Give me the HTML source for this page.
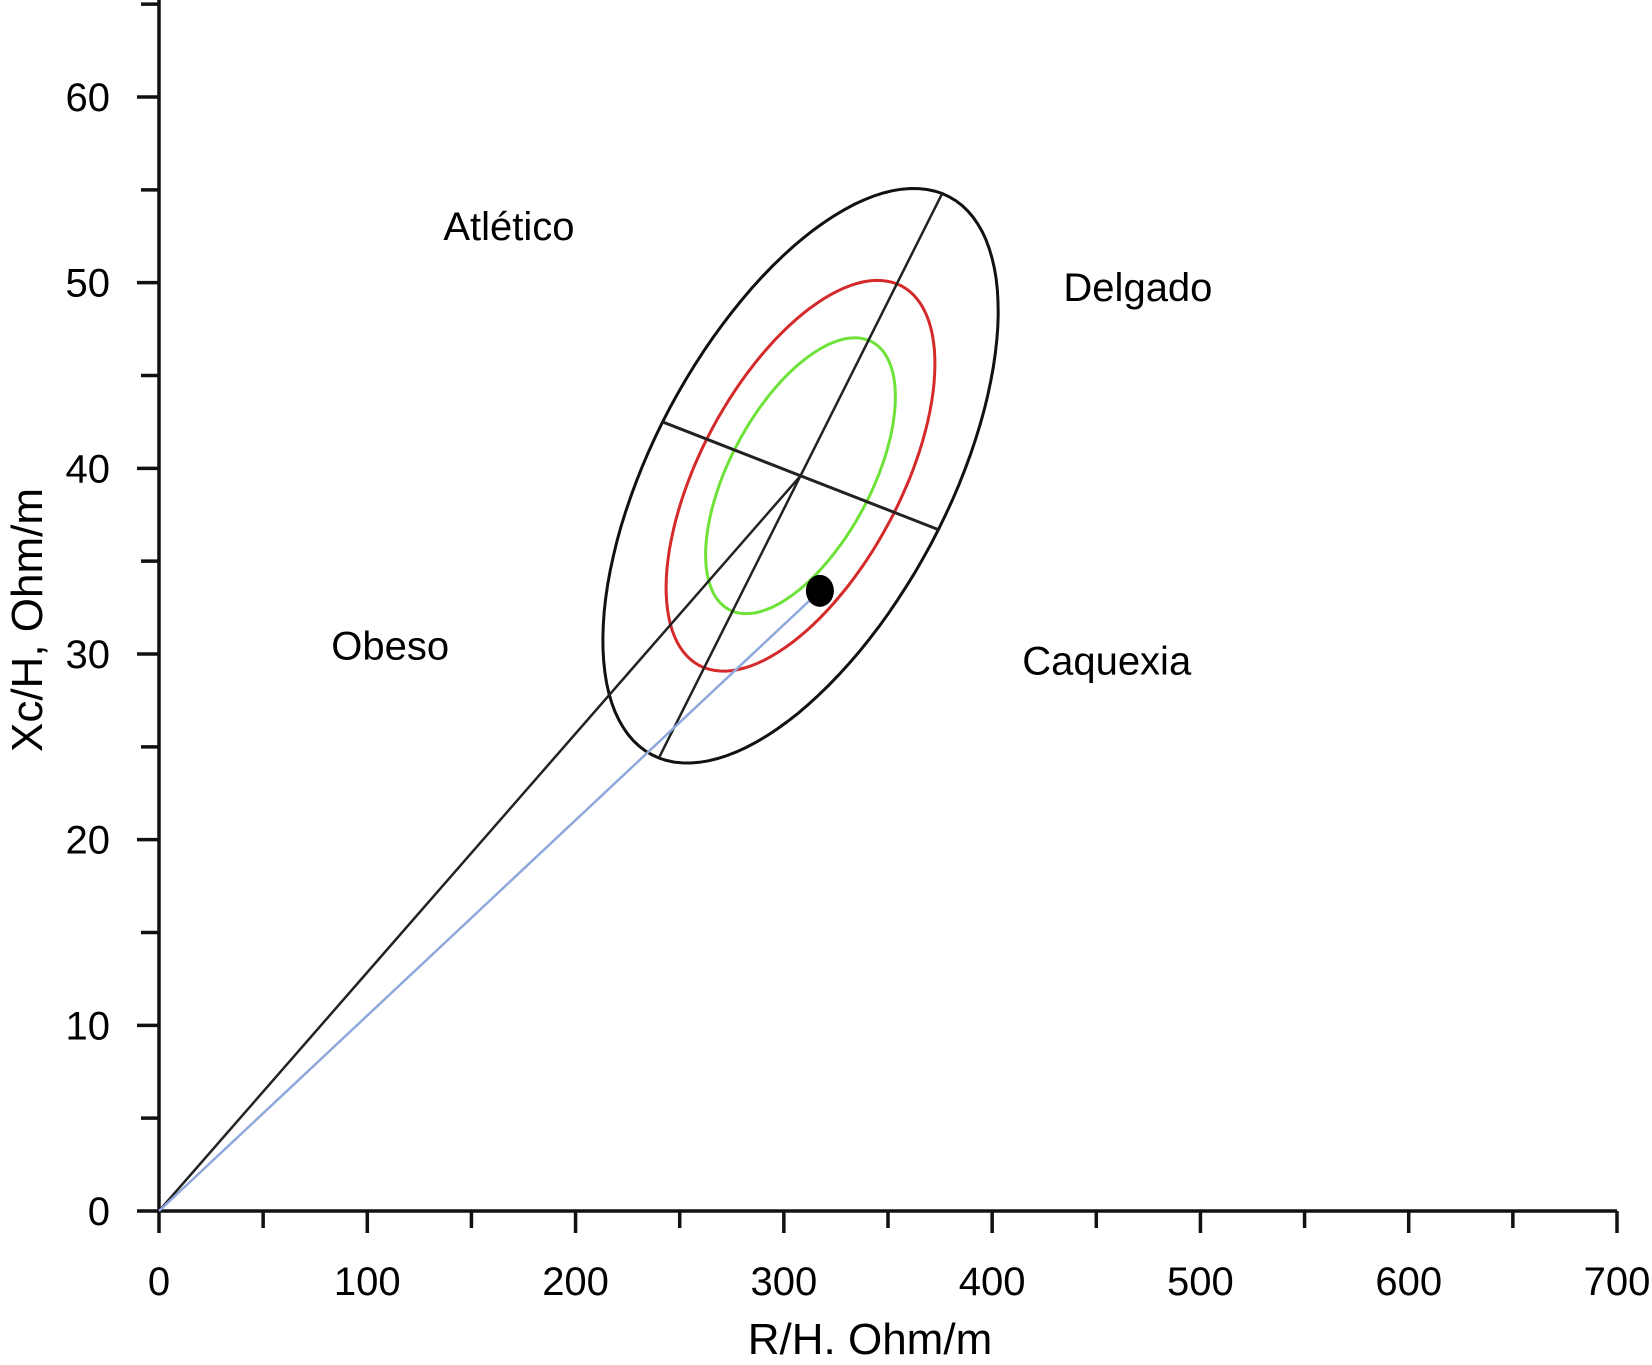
<!DOCTYPE html>
<html><head><meta charset="utf-8"><style>
html,body{margin:0;padding:0;background:#fff}
svg{display:block}
text{font-family:"Liberation Sans",Arial,sans-serif;fill:#000}
</style></head><body>
<svg id="chart" width="1652" height="1365" viewBox="0 0 1652 1365" xmlns="http://www.w3.org/2000/svg"></svg>
<script>
const xTicks=[0,100,200,300,400,500,600,700];
const yTicks=[0,10,20,30,40,50,60];
const ellipseCenter=[308,39.6];
const majorHalf=[68,15.2];
const minorHalf=[66.2,-2.9];
const ellipseScales=[1,0.68,0.48];
const ellipseColors=["#111","#d42a2a","#6fe23a"];
const ellipseNames=["ellipse-95","ellipse-75","ellipse-50"];
const subjectPoint=[317.3,33.4];
const regionLabels=["Atlético","Delgado","Obeso","Caquexia"];
const regionPos=[[168,52.3],[470,49.0],[111,29.7],[455,28.9]];

const NS="http://www.w3.org/2000/svg";
const svg=document.getElementById('chart');
const X=v=>159+v*(1617-159)/700;
const Y=v=>1211-v*(1211-97)/60;
function mk(tag,attrs,parent){const e=document.createElementNS(NS,tag);for(const k in attrs)e.setAttribute(k,attrs[k]);(parent||svg).appendChild(e);return e;}

let a=mk('path',{d:`M${X(0)} 0 L${X(0)} ${Y(0)} L${X(700)} ${Y(0)}`,stroke:'#111','stroke-width':3.5,fill:'none'});


for(let v=0;v<=65;v+=5){
  const major=v%10===0;
  const t=mk('line',{x1:X(0)-(major?22:18),x2:X(0),y1:Y(v),y2:Y(v),stroke:'#111','stroke-width':3.5});
  
  
}
for(let v=0;v<=700;v+=50){
  const major=v%100===0;
  const t=mk('line',{x1:X(v),x2:X(v),y1:Y(0),y2:Y(0)+(major?22:17),stroke:'#111','stroke-width':3.5});
  
  
}
yTicks.forEach(v=>{
  const t=mk('text',{x:110,y:Y(v)+14,'text-anchor':'end','font-size':40});
  t.textContent=v;
  
  
});
xTicks.forEach(v=>{
  const t=mk('text',{x:X(v),y:1295,'text-anchor':'middle','font-size':40});
  t.textContent=v;
  
  
});
let xt=mk('text',{x:870,y:1354,'text-anchor':'middle','font-size':44});
xt.textContent='R/H. Ohm/m';


let yt=mk('text',{x:0,y:0,'text-anchor':'middle','font-size':44,transform:'translate(42,620) rotate(-90)'});
yt.textContent='Xc/H, Ohm/m';



ellipseScales.forEach((s,i)=>{
  let d='';
  for(let k=0;k<=120;k++){
    const t=k/120*2*Math.PI;
    const dx=ellipseCenter[0]+s*(majorHalf[0]*Math.cos(t)+minorHalf[0]*Math.sin(t));
    const dy=ellipseCenter[1]+s*(majorHalf[1]*Math.cos(t)+minorHalf[1]*Math.sin(t));
    d+=(k?'L':'M')+X(dx).toFixed(1)+' '+Y(dy).toFixed(1);
  }
  const e=mk('path',{d:d+'Z',stroke:ellipseColors[i],'stroke-width':3,fill:'none'});
  
  
});
const c=ellipseCenter;
let l1=mk('line',{x1:X(c[0]-majorHalf[0]),y1:Y(c[1]-majorHalf[1]),x2:X(c[0]+majorHalf[0]),y2:Y(c[1]+majorHalf[1]),stroke:'#222','stroke-width':2.5});


let l2=mk('line',{x1:X(c[0]-minorHalf[0]),y1:Y(c[1]-minorHalf[1]),x2:X(c[0]+minorHalf[0]),y2:Y(c[1]+minorHalf[1]),stroke:'#222','stroke-width':3});


let l3=mk('line',{x1:X(0),y1:Y(0),x2:X(c[0]),y2:Y(c[1]),stroke:'#222','stroke-width':2.5});


let l4=mk('line',{x1:X(0),y1:Y(0),x2:X(subjectPoint[0]),y2:Y(subjectPoint[1]),stroke:'#8fa8dc','stroke-width':2.5});


let pt=mk('ellipse',{cx:X(subjectPoint[0]),cy:Y(subjectPoint[1]),rx:14,ry:16,fill:'#000'});



regionLabels.forEach((s,i)=>{
  const t=mk('text',{x:X(regionPos[i][0]),y:Y(regionPos[i][1]),'text-anchor':'middle','font-size':40});
  t.textContent=s;
  
  
});
</script>
</body></html>
